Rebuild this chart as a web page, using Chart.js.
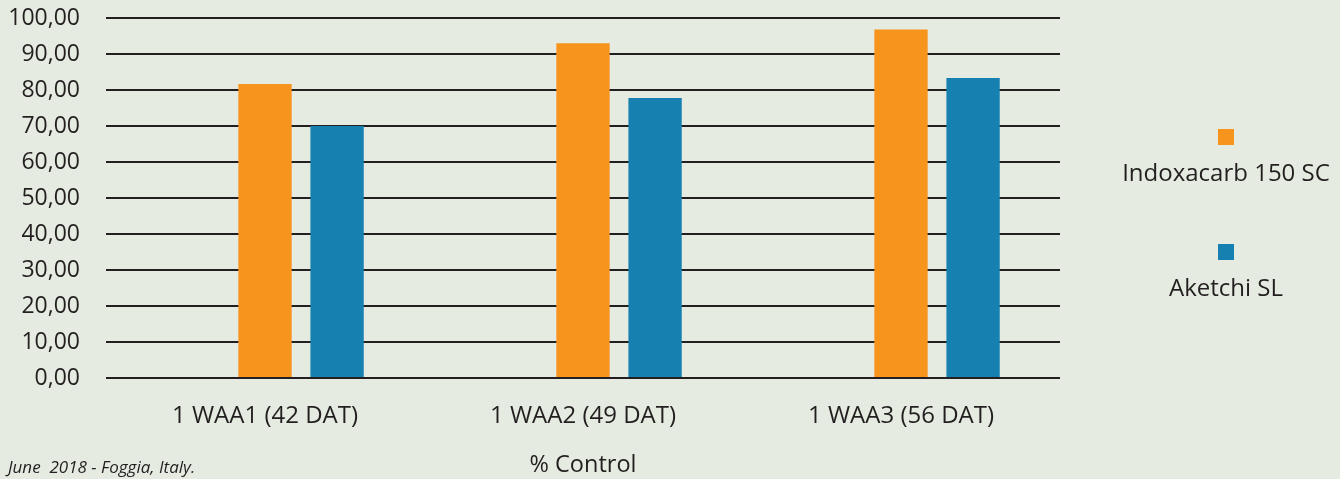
<!DOCTYPE html>
<html>
<head>
<meta charset="utf-8">
<script src="https://cdn.jsdelivr.net/npm/chart.js@4"></script>
<style>
    html, body { margin: 0; padding: 0; background: #e5ebe0; }
    #wrap { position: relative; width: 1340px; height: 479px; font-family: "Open Sans", sans-serif; color: #231f20; }
    #chartCanvas { position: absolute; left: 0; top: 0; }
    #legend { position: absolute; left: 1100px; top: 0; width: 252px; }
    .leg-item { position: absolute; left: 0; width: 252px; text-align: center; }
    .leg-box { width: 16px; height: 16px; margin: 0 auto; }
    .leg-text { font-size: 24px; margin-top: 10px; white-space: nowrap; }
    #note { position: absolute; left: 8px; top: 455px; font-size: 17px; font-style: italic; }
</style>
</head>
<body>
<div id="wrap">
    <canvas id="chartCanvas" width="1340" height="479"></canvas>
    <div id="legend"></div>
    <div id="note">June &nbsp;2018 - Foggia, Italy.</div>
</div>
<script>
    const categories = ['1 WAA1 (42 DAT)', '1 WAA2 (49 DAT)', '1 WAA3 (56 DAT)'];
    const untreated = [0, 0, 0];
    const indoxacarb = [81.7, 93.0, 96.8];
    const aketchi = [70.0, 77.8, 83.3];
    const seriesNames = ['Untreated', 'Indoxacarb 150 SC', 'Aketchi SL'];
    const seriesColors = ['rgba(0,0,0,0)', '#f7941e', '#1681b0'];

    const datasets = [untreated, indoxacarb, aketchi].map(function (vals, i) {
        return {
            label: seriesNames[i],
            data: vals,
            backgroundColor: seriesColors[i],
            borderWidth: 0,
            barPercentage: 0.74,
            categoryPercentage: 0.68
        };
    });

    const chart = new Chart(document.getElementById('chartCanvas'), {
        type: 'bar',
        data: { labels: categories, datasets: datasets },
        options: {
            responsive: false,
            animation: false,
            layout: { padding: { top: 18, right: 280, bottom: 0, left: 0 } },
            plugins: { legend: { display: false }, tooltip: { enabled: false } },
            scales: {
                x: {
                    grid: { display: false },
                    border: { display: false },
                    ticks: { color: '#231f20', font: { family: 'Open Sans', size: 24 }, padding: 16 },
                    title: { display: true, text: '% Control', color: '#231f20', font: { family: 'Open Sans', size: 23.5 }, padding: { top: 0, bottom: 0 } },
                    afterFit: function (s) { s.height = 101; }
                },
                y: {
                    min: 0,
                    max: 100,
                    ticks: {
                        stepSize: 10,
                        color: '#231f20',
                        font: { family: 'Open Sans', size: 23 },
                        padding: 0,
                        callback: function (v) { return v.toFixed(2).replace('.', ','); }
                    },
                    grid: { color: '#231f20', lineWidth: 2, drawTicks: true, tickLength: 26, tickColor: 'rgba(0,0,0,0)' },
                    border: { display: false },
                    afterFit: function (s) { s.width = 106; }
                }
            }
        }
    });

    // legend built from the datasets (placeholder series left out)
    const legendTops = [129, 244];
    const legend = document.getElementById('legend');
    chart.data.datasets.slice(1).forEach(function (ds, i) {
        const item = document.createElement('div');
        item.className = 'leg-item';
        item.style.top = legendTops[i] + 'px';
        item.innerHTML = '<div class="leg-box" style="background:' + ds.backgroundColor + '"></div>' +
            '<div class="leg-text">' + ds.label + '</div>';
        legend.appendChild(item);
    });
</script>
</body>
</html>
